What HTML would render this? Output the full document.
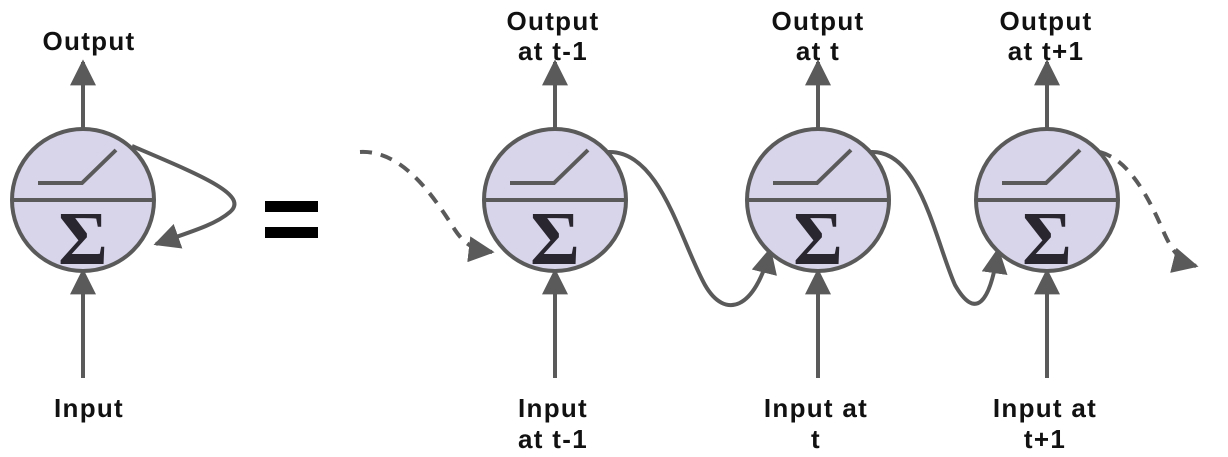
<!DOCTYPE html>
<html><head><meta charset="utf-8"><style>
html,body{margin:0;padding:0;background:#fff;}
svg{display:block;}
text{font-family:"Liberation Sans",sans-serif;font-weight:bold;font-size:26px;letter-spacing:1.3px;fill:#111;text-anchor:middle;}
.sig{font-family:"Liberation Serif",serif;font-size:76px;letter-spacing:0;fill:#2a2630;font-weight:bold;}
</style></head><body>
<svg width="1228" height="457" viewBox="0 0 1228 457">
<defs>
<marker id="ah" viewBox="0 0 10 10" refX="9" refY="5" markerWidth="6.5" markerHeight="6.5" orient="auto-start-reverse" markerUnits="strokeWidth">
<path d="M0,0 L10,5 L0,10 z" fill="#5a5a5a"/></marker>
<g id="neuron">
<circle cx="0" cy="0" r="71" fill="#d8d4ea" stroke="#5a5a5a" stroke-width="4"/>
<line x1="-71" y1="0" x2="71" y2="0" stroke="#5a5a5a" stroke-width="4"/>
<polyline points="-45,-17 -1,-17 33,-50" fill="none" stroke="#5a5a5a" stroke-width="4"/>
<text class="sig" x="0" y="64">Σ</text>
</g>
</defs>
<g stroke="#5a5a5a" stroke-width="4" fill="none">
<line x1="83" y1="129" x2="83" y2="62" marker-end="url(#ah)"/>
<line x1="83" y1="378" x2="83" y2="271" marker-end="url(#ah)"/>
<path d="M132,146 C200,175 250,195 230,212 C215,225 190,232 156,244" marker-end="url(#ah)"/>
<line x1="555" y1="129" x2="555" y2="62" marker-end="url(#ah)"/>
<line x1="555" y1="378" x2="555" y2="271" marker-end="url(#ah)"/>
<line x1="818" y1="129" x2="818" y2="62" marker-end="url(#ah)"/>
<line x1="818" y1="378" x2="818" y2="271" marker-end="url(#ah)"/>
<line x1="1047" y1="129" x2="1047" y2="62" marker-end="url(#ah)"/>
<line x1="1047" y1="378" x2="1047" y2="271" marker-end="url(#ah)"/>
<path d="M608,152 C660,150 680,240 705,285 C725,320 755,310 770,250" marker-end="url(#ah)"/>
<path d="M871,152 C920,150 935,240 955,285 C975,320 990,305 998,250" marker-end="url(#ah)"/>
<path d="M360,152 C400,150 430,190 455,230 C465,245 475,250 492,252" stroke-dasharray="12,9" marker-end="url(#ah)"/>
<path d="M1100,152 C1130,160 1150,200 1165,235 C1172,250 1180,262 1196,266" stroke-dasharray="12,9" marker-end="url(#ah)"/>
</g>
<use href="#neuron" x="83" y="200"/>
<use href="#neuron" x="555" y="200"/>
<use href="#neuron" x="818" y="200"/>
<use href="#neuron" x="1047" y="200"/>
<rect x="265" y="201" width="53" height="11" fill="#000"/>
<rect x="265" y="227" width="53" height="11" fill="#000"/>
<text x="89" y="50">Output</text>
<text x="89" y="417">Input</text>
<text x="553" y="30">Output</text>
<text x="553" y="60">at t-1</text>
<text x="818" y="30">Output</text>
<text x="818" y="60">at t</text>
<text x="1046" y="30">Output</text>
<text x="1046" y="60">at t+1</text>
<text x="553" y="417">Input</text>
<text x="553" y="448">at t-1</text>
<text x="816" y="417">Input at</text>
<text x="816" y="448">t</text>
<text x="1045" y="417">Input at</text>
<text x="1045" y="448">t+1</text>
</svg>
</body></html>
